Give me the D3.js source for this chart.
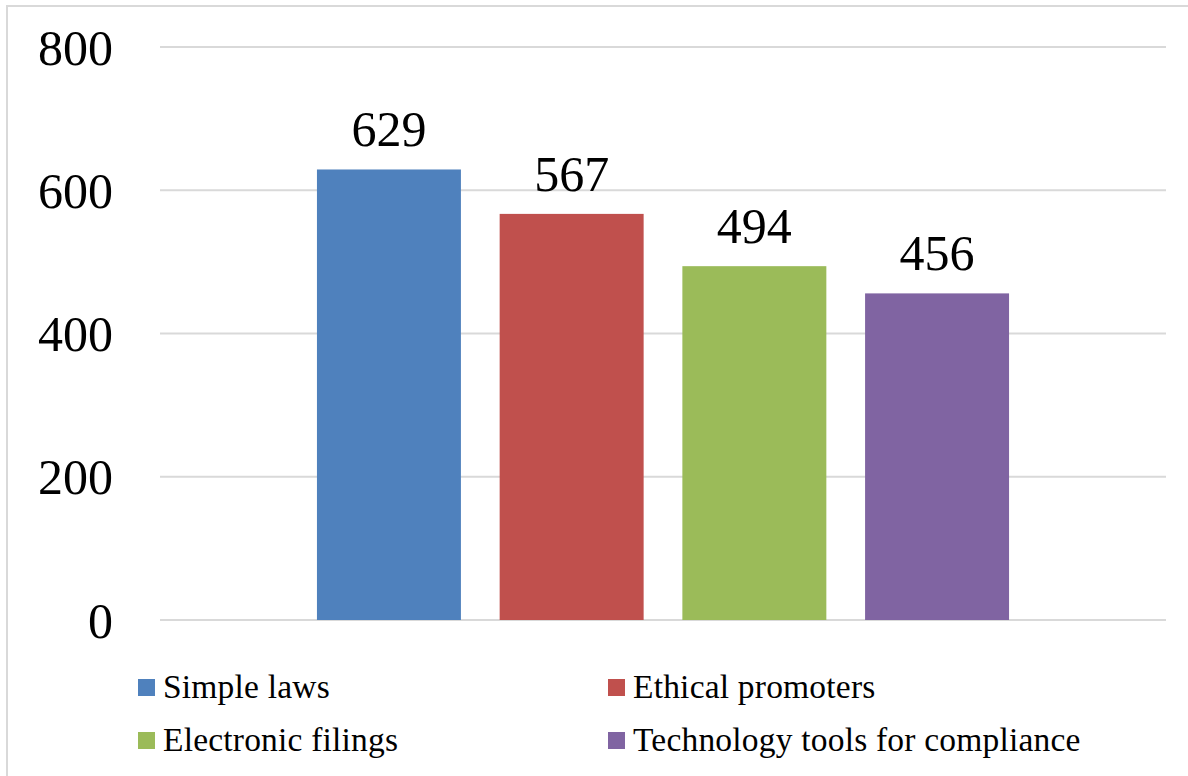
<!DOCTYPE html>
<html>
<head>
<meta charset="utf-8">
<script src="https://cdn.jsdelivr.net/npm/d3@7"></script>
<style>
  body { margin: 0; background: #fff; }
  text { font-family: "Liberation Serif", "Times New Roman", serif; fill: #000; }
</style>
</head>
<body>
<svg width="1188" height="776"></svg>
<script>
// data
var series = ["Simple laws", "Ethical promoters", "Electronic filings", "Technology tools for compliance"];
var values = [629, 567, 494, 456];
var colors = ["#4f81bd", "#c0504d", "#9bbb59", "#8064a2"];
var yTicks = [0, 200, 400, 600, 800];

var svg = d3.select("svg"),
    plotLeft = 160, plotRight = 1166, plotTop = 47, plotBottom = 620;

// chart frame
svg.append("rect")
    .attr("x", 7).attr("y", 6)
    .attr("width", 1188).attr("height", 800)
    .attr("fill", "none")
    .attr("stroke", "#d9d9d9")
    .attr("stroke-width", 2);

var y = d3.scaleLinear().domain([0, 800]).range([plotBottom, plotTop]);

var x = d3.scaleBand()
    .domain(series)
    .range([plotLeft, plotRight])
    .paddingInner(0.212)
    .paddingOuter(0.859);

// gridlines
svg.append("g")
  .selectAll("line")
  .data(yTicks)
  .enter().append("line")
    .attr("x1", plotLeft).attr("x2", plotRight)
    .attr("y1", function(d) { return y(d); })
    .attr("y2", function(d) { return y(d); })
    .attr("stroke", "#d9d9d9")
    .attr("stroke-width", 2);

// y axis labels
var yAxis = d3.axisLeft(y).tickValues(yTicks).tickSize(0).tickPadding(0);
var ya = svg.append("g")
    .attr("transform", "translate(113,0)")
    .call(yAxis);
ya.select(".domain").remove();
ya.selectAll("text")
    .attr("dy", null)
    .attr("y", 17)
    .style("font-family", "'Liberation Serif', serif")
    .style("font-size", "50px")
    .attr("fill", "#000");

// bars
svg.append("g")
  .selectAll("rect")
  .data(values)
  .enter().append("rect")
    .attr("x", function(d, i) { return x(series[i]); })
    .attr("y", function(d) { return y(d); })
    .attr("width", x.bandwidth())
    .attr("height", function(d) { return y(0) - y(d); })
    .attr("fill", function(d, i) { return colors[i]; });

// value labels
svg.append("g")
  .selectAll("text")
  .data(values)
  .enter().append("text")
    .attr("x", function(d, i) { return x(series[i]) + x.bandwidth() / 2; })
    .attr("y", function(d) { return y(d) - 23; })
    .attr("text-anchor", "middle")
    .style("font-size", "50px")
    .text(function(d) { return d; });

// legend, 2 columns
var legendX = [138, 608], legendY = [679, 732];
var leg = svg.append("g")
  .selectAll("g")
  .data(series)
  .enter().append("g")
    .attr("transform", function(d, i) {
      return "translate(" + legendX[i % 2] + "," + legendY[Math.floor(i / 2)] + ")";
    });

leg.append("rect")
    .attr("width", 17).attr("height", 17)
    .attr("fill", function(d, i) { return colors[i]; });

leg.append("text")
    .attr("x", 25)
    .attr("y", 19)
    .style("font-size", "33.5px")
    .style("letter-spacing", "0.2px")
    .text(function(d) { return d; });
</script>
</body>
</html>
